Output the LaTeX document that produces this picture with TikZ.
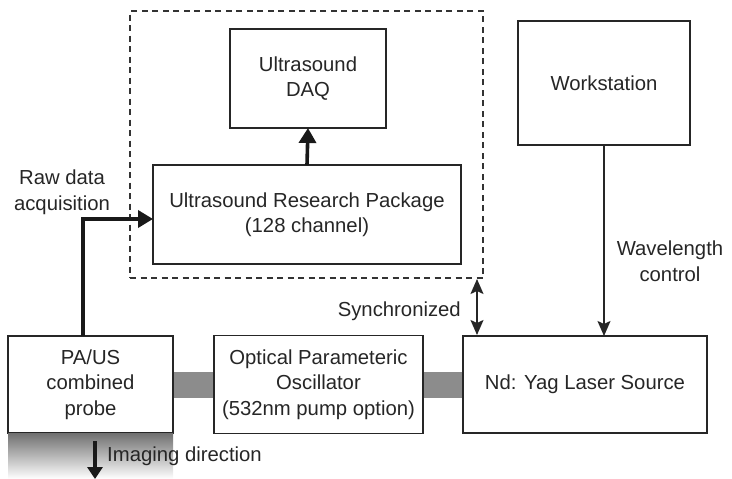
\documentclass[tikz,border=0pt]{standalone}
\usepackage{fontspec}
\setmainfont{Liberation Sans}
\usetikzlibrary{arrows.meta,calc}
\begin{document}
\begin{tikzpicture}[x=1pt,y=-1pt,
  box/.style={draw=black!85,line width=1.8pt,fill=white,inner sep=0pt,outer sep=0pt,align=center,font=\fontsize{20.3}{25.5}\selectfont,text=black!85},
  lbl/.style={inner sep=0pt,align=center,font=\fontsize{20.3}{25.5}\selectfont,text=black!85},
  thick arrow/.style={draw=black!90,line width=3.6pt,-{Triangle[length=15pt,width=17pt]}},
  thin arrow/.style={draw=black!85,line width=1.7pt,-{Stealth[length=15pt,width=13pt,inset=3pt]}},
  beam/.style={fill=black!45,draw=none}]
\useasboundingbox (0,0) rectangle (732,479);
% dashed group
\node[draw=black!80,line width=1.6pt,dash pattern=on 6pt off 4.5pt,minimum width=353pt,minimum height=267pt,inner sep=0pt] (grp) at (306.5,144.5) {};
% boxes
\node[box,minimum width=156pt,minimum height=99pt] (daq) at (308,78.5) {Ultrasound\\DAQ};
\node[box,minimum width=308pt,minimum height=99pt] (urp) at (307,214.5) {Ultrasound Research Package\\(128 channel)};
\node[box,minimum width=172pt,minimum height=124pt] (ws) at (604,83) {Workstation};
\node[box,minimum width=165pt,minimum height=97pt] (pa) at (90.5,384.5) {PA/US\\combined\\probe};
\node[box,minimum width=209pt,minimum height=98pt] (opo) at (318.5,384.5) {Optical Parameteric\\Oscillator\\(532nm pump option)};
\node[box,minimum width=244pt,minimum height=97pt] (las) at (585,384.5) {Nd: Yag Laser Source};
% beams
\fill[beam] ($(pa.east)+(0.9,-12.5)$) rectangle ($(opo.west)+(-0.9,13.5)$);
\fill[beam] ($(opo.east)+(0.9,-12.5)$) rectangle ($(las.west)+(-0.9,13.5)$);
% gradient below probe
\shade[top color=black!55,bottom color=white,draw=none] ($(pa.south west)+(0,0.9)$) rectangle ($(pa.south east)+(0,46)$);
% imaging direction
\coordinate (imgtop) at (95,441);
\coordinate (imgbot) at (95,479);
\draw[draw=black!90,line width=3.4pt,-{Triangle[length=12pt,width=15pt]}] (imgtop) -- (imgbot);
\node[lbl,anchor=west] (imgtxt) at (107,456) {Imaging direction};
% raw data acquisition
\coordinate (rawstart) at (83,336);
\draw[thick arrow] (rawstart) |- (urp.west |- 0,219);
\node[lbl] (rawtxt) at (62,192) {Raw data\\acquisition};
% DAQ
\draw[thick arrow] (urp.north) -- (daq.south);
% synchronized
\draw[draw=black!85,line width=1.7pt,{Stealth[length=15pt,width=13pt,inset=3pt]}-{Stealth[length=15pt,width=13pt,inset=3pt]}] (477,279) -- (477,335);
\node[lbl,anchor=east] (synctxt) at (461,311) {Synchronized};
% wavelength control
\draw[thin arrow] (ws.south) -- (las.north -| ws.south);
\node[lbl] (wltxt) at (670,261) {Wavelength\\control};
\end{tikzpicture}
\end{document}
